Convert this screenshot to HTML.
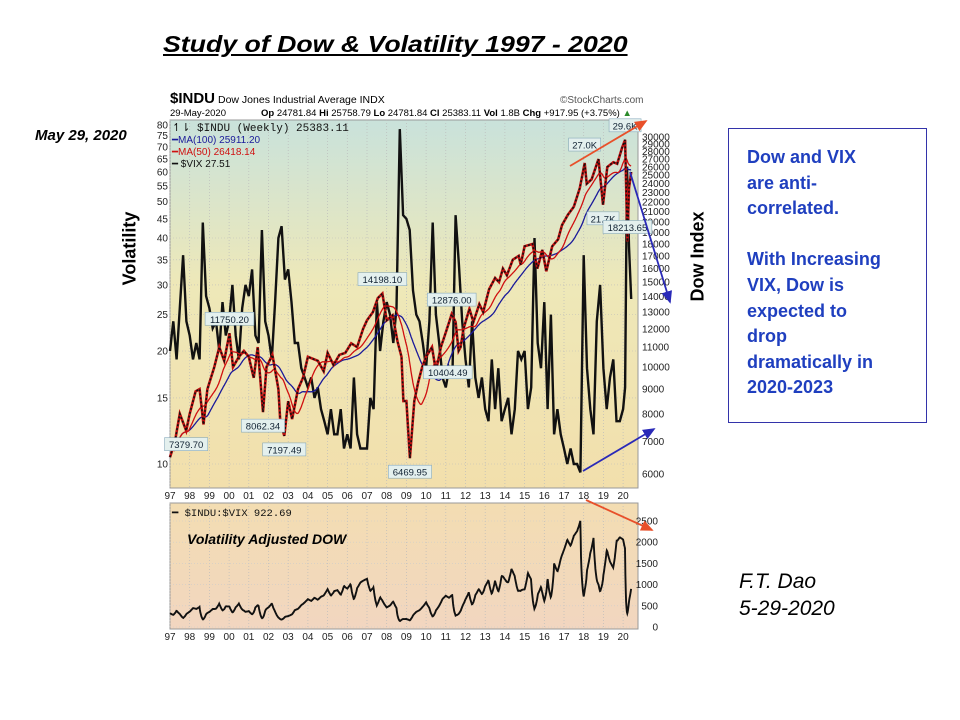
<!DOCTYPE html>
<html><head><meta charset="utf-8">
<style>
body{margin:0;width:960px;height:720px;background:#fff;overflow:hidden;font-family:"Liberation Sans",Arial,sans-serif;}
#root{position:relative;width:960px;height:720px;}
.abs{position:absolute;}
</style></head>
<body>
<div id="root">
<div class="abs" style="left:163px;top:31px;font-size:23px;font-weight:bold;font-style:italic;text-decoration:underline;transform:scaleX(1.16);transform-origin:left top;">Study of Dow &amp; Volatility 1997 - 2020</div>
<div class="abs" style="left:35px;top:127px;font-size:15px;font-weight:bold;font-style:italic;">May 29, 2020</div>
<div class="abs" style="left:85px;top:238px;width:90px;text-align:center;font-size:18px;font-weight:bold;transform:rotate(-90deg);">Volatility</div>
<div class="abs" style="left:648px;top:246px;width:100px;text-align:center;font-size:18px;font-weight:bold;transform:rotate(-90deg);">Dow Index</div>
<div class="abs" style="left:728px;top:128px;width:199px;height:295px;border:1px solid #3333aa;box-sizing:border-box;color:#1f3fbf;font-size:18px;font-weight:bold;line-height:25.6px;padding:16px 0 0 18px;">Dow and VIX<br>are anti-<br>correlated.<br><br>With Increasing<br>VIX, Dow is<br>expected to<br>drop<br>dramatically in<br>2020-2023</div>
<div class="abs" style="left:739px;top:568px;font-size:21px;font-style:italic;line-height:27px;">F.T. Dao<br>5-29-2020</div>
<svg class="abs" style="left:0;top:0" width="960" height="720" id="chart"></svg>
</div>
<script>
const vixValues=[20,24,19,26,36,24, 22,19,21,19,44,28, 26,23,24,20,27,22, 24,30,22,19,26,30, 28,33,22,21,42,24, 22,19,27,40,43,31, 33,27,21,21,18,17, 16,17,15,16,14,13, 12,14,12,12,14,11, 12,11,17,12,11,11, 11,15,14,27,20,24, 27,25,21,26,78,46, 45,42,29,25,24,21, 18,24,44,25,21,17, 16,18,17,46,34,24, 19,16,24,17,15,17, 14,13,19,14,18,13, 14,15,12,14,20,19, 20,14,16,40,21,18, 27,14,25,12,14,12, 11,10,11,10,10,9.5, 36,18,14,12,24,30, 18,14,17,19,13,13];
const vixStartYear=1997;
const vix2020Dates=[2020.0,2020.1,2020.2,2020.3,2020.41];
const vix2020Values=[14,16,62,38,27.51];
const dowDates=[1997,1997.25,1997.5,1997.82,1998.0,1998.3,1998.5,1998.7,1998.9,1999.25,1999.5,1999.75,2000.02,2000.2,2000.5,2000.75,2001.0,2001.25,2001.45,2001.72,2001.9,2002.2,2002.5,2002.6,2002.8,2003.0,2003.2,2003.5,2003.75,2004.0,2004.5,2004.8,2005.0,2005.3,2005.6,2005.9,2006.2,2006.5,2006.8,2007.0,2007.3,2007.55,2007.78,2008.0,2008.3,2008.55,2008.75,2008.85,2009.0,2009.18,2009.4,2009.6,2009.8,2010.0,2010.3,2010.5,2010.75,2011.0,2011.3,2011.5,2011.65,2011.75,2011.9,2012.2,2012.4,2012.7,2012.9,2013.2,2013.5,2013.7,2013.9,2014.1,2014.4,2014.7,2014.8,2015.0,2015.4,2015.65,2015.9,2016.1,2016.4,2016.7,2016.9,2017.2,2017.5,2017.8,2018.05,2018.15,2018.4,2018.75,2018.98,2019.2,2019.5,2019.7,2019.95,2020.1,2020.22,2020.3,2020.41];
const dowValues=[6500,7000,8000,7380,8000,8900,9000,7600,9000,10000,11000,10300,11750,10000,10500,10800,10500,9500,11000,8062,10000,10600,9000,7700,7197,8500,7800,9000,9500,10500,10300,9800,10700,10100,10600,10700,11200,11000,12000,12500,13000,13900,14198,12500,12800,11300,10500,8500,8500,6470,8500,9300,10000,10500,11000,9800,11000,11800,12876,12400,10800,11000,12000,13200,12400,13500,13000,14500,15300,15000,16000,15500,16700,17000,16300,17800,18000,16000,17500,15800,17800,18400,19700,20700,21500,23500,26500,24000,24500,27000,21700,26000,26600,26400,28500,29600,18213,23500,25383];
const vixTicks=[10,15,20,25,30,35,40,45,50,55,60,65,70,75,80];
const dowTicks=[6000,7000,8000,9000,10000,11000,12000,13000,14000,15000,16000,17000,18000,19000,20000,21000,22000,23000,24000,25000,26000,27000,28000,29000,30000];
const ratioTicks=[0,500,1000,1500,2000,2500];
const yearLabels=["97","98","99","00","01","02","03","04","05","06","07","08","09","10","11","12","13","14","15","16","17","18","19","20"];
const annotLabels=["7379.70","11750.20","8062.34","7197.49","14198.10","6469.95","12876.00","10404.49","27.0K","21.7K","29.6K","18213.65"];
const annotDates=[1997.82,2000.02,2001.72,2002.8,2007.78,2009.18,2011.3,2011.1,2018.05,2018.98,2020.1,2020.22];
const annotValues=[7380,11750,8062,7197,14198,6470,12876,10404,27000,21700,29600,18213];

const svg=document.getElementById('chart');const NS='http://www.w3.org/2000/svg';
function mk(tag,attrs,parent){const e=document.createElementNS(NS,tag);for(const k in attrs)e.setAttribute(k,attrs[k]);(parent||svg).appendChild(e);return e;}
const X0=170,PX=19.7;
function xS(t){return X0+(t-1997)*PX;}
function vixY(v){return 464-Math.log(v/10)/Math.log(8)*339;}
function dowY(v){return 474-Math.log(v/6000)/Math.log(5)*337;}
function ratioY(r){return 627-r*0.0424;}
function interp(ts,vs,t){if(t<=ts[0])return vs[0];for(let i=1;i<ts.length;i++){if(t<=ts[i]){const f=(t-ts[i-1])/(ts[i]-ts[i-1]);return vs[i-1]+f*(vs[i]-vs[i-1]);}}return vs[vs.length-1];}

const defs=mk('defs',{});
const g1=mk('linearGradient',{id:'g1',x1:0,y1:0,x2:0,y2:1},defs);
mk('stop',{offset:'0','stop-color':'#c9e2db'},g1);mk('stop',{offset:'0.45','stop-color':'#eee8b8'},g1);mk('stop',{offset:'1','stop-color':'#f2dfac'},g1);
const g2=mk('linearGradient',{id:'g2',x1:0,y1:0,x2:0,y2:1},defs);
mk('stop',{offset:'0','stop-color':'#f3ddb2'},g2);mk('stop',{offset:'1','stop-color':'#f2d6c0'},g2);
for(const id of ['ao','ab']){const m=mk('marker',{id:id,markerWidth:8,markerHeight:8,refX:6,refY:3,orient:'auto'},defs);mk('path',{d:'M0,0 L7,3 L0,6 Z',fill:id=='ao'?'#e8502a':'#2a2ab8'},m);}

let t=mk('text',{x:170,y:103,'font-size':15,'font-weight':'bold'});t.textContent='$INDU';

t=mk('text',{x:218,y:103,'font-size':10.5});t.textContent='Dow Jones Industrial Average INDX';
t=mk('text',{x:560,y:103,'font-size':10,fill:'#555'});t.textContent='©StockCharts.com';
t=mk('text',{x:170,y:116,'font-size':9.5});t.textContent='29-May-2020';
t=mk('text',{x:261,y:116,'font-size':9.5});t.innerHTML='<tspan font-weight="bold">Op</tspan> 24781.84 <tspan font-weight="bold">Hi</tspan> 25758.79 <tspan font-weight="bold">Lo</tspan> 24781.84 <tspan font-weight="bold">Cl</tspan> 25383.11 <tspan font-weight="bold">Vol</tspan> 1.8B <tspan font-weight="bold">Chg</tspan> +917.95 (+3.75%) <tspan fill="#2a8a2a">▲</tspan>';


let p=mk('rect',{x:170,y:120,width:468,height:368,fill:'url(#g1)',stroke:'#999','stroke-width':1});

p=mk('rect',{x:170,y:503,width:468,height:126,fill:'url(#g2)',stroke:'#999','stroke-width':1});


yearLabels.forEach((lab,i)=>{const x=xS(1997+i);
 mk('line',{x1:x,y1:120,x2:x,y2:488,stroke:'#bbb','stroke-dasharray':'1,2','stroke-width':0.7});
 mk('line',{x1:x,y1:503,x2:x,y2:629,stroke:'#bbb','stroke-dasharray':'1,2','stroke-width':0.7});
 for(const yy of [499,640]){const e=mk('text',{x:x,y:yy,'font-size':10,'text-anchor':'middle',fill:'#222'});e.textContent=lab;
 }
});
vixTicks.forEach(v=>{const y=vixY(v);const e=mk('text',{x:168,y:y+3.5,'font-size':10,'text-anchor':'end',fill:'#222'});e.textContent=v;
 
 if(v%5==0&&v<=40)mk('line',{x1:170,y1:y,x2:638,y2:y,stroke:'#bbb','stroke-dasharray':'1,2','stroke-width':0.6});});
dowTicks.forEach(v=>{const y=dowY(v);const e=mk('text',{x:642,y:y+3.5,'font-size':10,fill:'#222'});e.textContent=v;
 });
ratioTicks.forEach(v=>{const y=ratioY(v);const e=mk('text',{x:658,y:y+3.5,'font-size':10,'text-anchor':'end',fill:'#222'});e.textContent=v;
 
 mk('line',{x1:170,y1:y,x2:638,y2:y,stroke:'#ccc','stroke-dasharray':'1,2','stroke-width':0.6});});

const vixT=vixValues.map((v,i)=>vixStartYear+i/6).concat(vix2020Dates);
const vixV=vixValues.concat(vix2020Values);
let d=vixT.map((tt,i)=>(i?'L':'M')+xS(tt).toFixed(1)+','+vixY(vixV[i]).toFixed(1)).join(' ');
p=mk('path',{d:d,fill:'none',stroke:'#111','stroke-width':2.4});


const weeks=[];for(let tt=1997;tt<=2020.41;tt+=1/52)weeks.push(tt);
const dowW=weeks.map(tt=>interp(dowDates,dowValues,tt));
function ma(n){return dowW.map((v,i)=>{let s=0,c=0;for(let j=Math.max(0,i-n+1);j<=i;j++){s+=dowW[j];c++;}return s/c;});}
function pathOf(arr,from){return arr.map((v,i)=>i<from?'':((i==from?'M':'L')+xS(weeks[i]).toFixed(1)+','+dowY(v).toFixed(1))).join(' ');}
p=mk('path',{d:pathOf(ma(100),20),fill:'none',stroke:'#1a1a9a','stroke-width':1.3});

p=mk('path',{d:pathOf(ma(50),10),fill:'none',stroke:'#d01010','stroke-width':1.3});

d=dowDates.map((tt,i)=>(i?'L':'M')+xS(tt).toFixed(1)+','+dowY(dowValues[i]).toFixed(1)).join(' ');
p=mk('path',{d:d,fill:'none',stroke:'#c01010','stroke-width':2.6});

p=mk('path',{d:d,fill:'none',stroke:'#111','stroke-width':1.6,'stroke-dasharray':'2,2'});

const ratio=weeks.map(tt=>interp(dowDates,dowValues,tt)/interp(vixT,vixV,tt));
d=ratio.map((r,i)=>(i?'L':'M')+xS(weeks[i]).toFixed(1)+','+ratioY(r).toFixed(1)).join(' ');
p=mk('path',{d:d,fill:'none',stroke:'#111','stroke-width':1.9});


annotLabels.forEach((lab,i)=>{const x=xS(annotDates[i]);const below=[0,2,3,5,7,9].includes(i);const y=dowY(annotValues[i])+(below?14:-14);
 const w=lab.length*5.6+4;const r=mk('rect',{x:x-w/2,y:y-7,width:w,height:13,fill:'#e4f0ee',stroke:'#8ab','stroke-width':0.6});
 
 const e=mk('text',{x:x,y:y+3.5,'font-size':9.5,'text-anchor':'middle',fill:'#123'});e.textContent=lab;});

const leg=[['↿⇂ $INDU (Weekly) 25383.11','#111',"Liberation Mono",131],['━MA(100) 25911.20','#1a1a9a',"Liberation Sans",143],['━MA(50) 26418.14','#d01010',"Liberation Sans",155],['━ $VIX 27.51','#111',"Liberation Sans",167]];
leg.forEach(l=>{const e=mk('text',{x:172,y:l[3],'font-size':l[2].includes('Mono')?11:10,fill:l[1],'font-family':l[2]});e.textContent=l[0];
 });
t=mk('text',{x:172,y:516,'font-size':10.5,'font-family':'Liberation Mono',fill:'#111'});t.textContent='━ $INDU:$VIX 922.69';

t=mk('text',{x:187,y:544,'font-size':14,'font-style':'italic','font-weight':'bold'});t.textContent='Volatility Adjusted DOW';


const arrows=[[570,166,646,121,'ao'],[630,172,670,302,'ab'],[583,471,654,429,'ab'],[586,500,652,530,'ao']];
arrows.forEach(a=>{const e=mk('line',{x1:a[0],y1:a[1],x2:a[2],y2:a[3],stroke:a[4]=='ao'?'#e8502a':'#2a2ab8','stroke-width':1.8,'marker-end':'url(#'+a[4]+')'});
 });
</script>
</body></html>
